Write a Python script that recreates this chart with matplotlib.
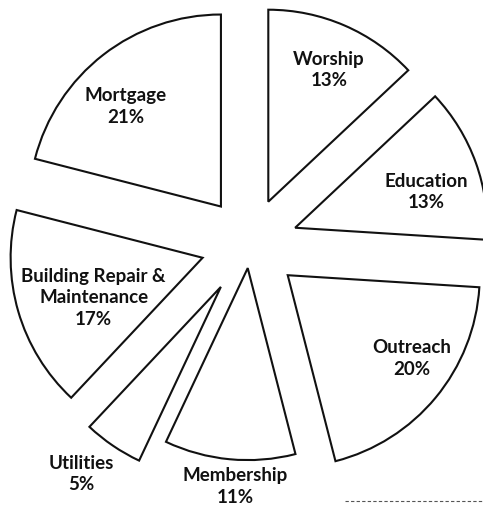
import numpy as np
from matplotlib import pyplot as plt

categories = ['Worship', 'Education', 'Outreach', 'Membership', 'Utilities',
              'Building Repair &\nMaintenance', 'Mortgage']
shares = [13, 13, 20, 11, 5, 17, 21]

# how far each slice is pulled out (fraction of radius)
explode = [0.24, 0.25, 0.255, 0.126, 0.27, 0.257, 0.247]
# label placement, polar around the pie centre
label_r = [1.0, 0.96, 1.03, 1.26, 1.48, 0.86, 0.97]
label_ang = [65.7, 16.7, -35.1, -93.6, -126.3, -161.3, 131.9]

plt.rcParams['font.family'] = ['Lato', 'DejaVu Sans']

fig = plt.figure(figsize=(4.83, 5.06), dpi=100)
ax = fig.add_axes([0, 0, 1, 1])

wedges, _ = ax.pie(shares, explode=explode, startangle=90, counterclock=False,
                   radius=1.0,
                   wedgeprops=dict(facecolor='white', edgecolor='#111111',
                                   linewidth=1.5, joinstyle='miter'))

for name, pct, r, a in zip(categories, shares, label_r, label_ang):
    t = np.deg2rad(a)
    ax.text(r * np.cos(t), r * np.sin(t), f'{name}\n{pct}%', ha='center', va='center',
            fontsize=13.5, fontweight='bold', color='#111111', linespacing=1.35,
            multialignment='center')

# scan edge at the bottom right
ax.plot([0.715, 1.0], [0.007, 0.007], transform=ax.transAxes, color='#555555',
        linestyle=(0, (3, 2)), linewidth=0.8, clip_on=False)

scale = 192.0
ax.set_xlim(-250 / scale, (483 - 250) / scale)
ax.set_ylim(-(506 - 245) / scale, 245 / scale)
ax.set_aspect('equal')
ax.axis('off')

plt.savefig('out.png', dpi=100)
